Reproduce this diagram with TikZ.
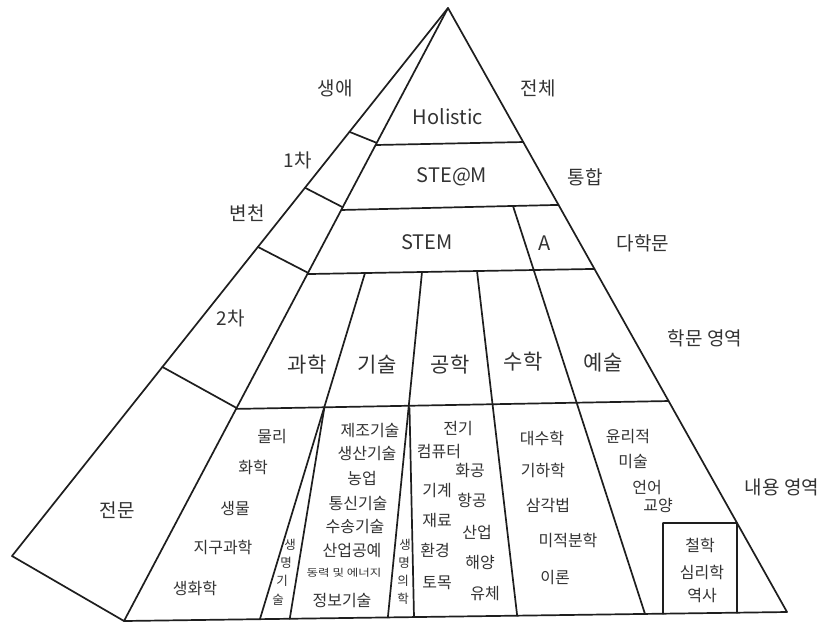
\documentclass[tikz,border=0pt]{standalone}
\usepackage{fontspec}
\usepackage{graphicx}
\setmainfont{Noto Sans CJK KR}
\usetikzlibrary{calc}
\definecolor{linec}{HTML}{1E1E1E}
\definecolor{txtc}{HTML}{333333}
\tikzset{
  edge/.style={draw=linec, line width=1.7pt, line join=round, line cap=round},
  lbl/.style={text=txtc, inner sep=0pt, font=\fontsize{19}{22}\selectfont},
  latin/.style={text=txtc, inner sep=0pt, font=\fontsize{20}{24}\selectfont},
  subj/.style={text=txtc, inner sep=0pt, font=\fontsize{21}{24}\selectfont},
  cont/.style={text=txtc, inner sep=0pt, font=\fontsize{16}{19}\selectfont},
  vert/.style={text=txtc, inner sep=0pt, font=\fontsize{12.5}{14}\selectfont},
  tinytext/.style={text=txtc, inner sep=0pt, font=\fontsize{10}{12}\selectfont}
}
\begin{document}
\begin{tikzpicture}[x=1pt,y=-1pt]
\useasboundingbox[fill=white] (0,0) rectangle (829,627);
% main points
\coordinate (A) at (448,8);
\coordinate (L) at (12,556);
\coordinate (B) at (124,621);
\coordinate (R) at (787,612);
% outline
\draw[edge] (A) -- (L) -- (B) -- (R) -- cycle;
\draw[edge] (A) -- (B);
% left face cross lines
\coordinate (c1o) at ($(A)!0.226!(L)$);  \coordinate (c1i) at ($(A)!0.220!(B)$);
\coordinate (c2o) at ($(A)!0.328!(L)$);  \coordinate (c2i) at ($(A)!0.325!(B)$);
\coordinate (c3o) at ($(A)!0.436!(L)$);  \coordinate (c3i) at ($(A)!0.432!(B)$);
\coordinate (c4o) at ($(A)!0.655!(L)$);  \coordinate (c4i) at ($(A)!0.6525!(B)$);
\draw[edge] (c1o) -- (c1i);
\draw[edge] (c2o) -- (c2i);
\draw[edge] (c3o) -- (c3i);
\draw[edge] (c4o) -- (c4i);
% front face rows
\coordinate (h1l) at ($(A)!0.2235!(B)$); \coordinate (h1r) at ($(A)!0.2219!(R)$);
\coordinate (h2l) at ($(A)!0.3295!(B)$); \coordinate (h2r) at ($(A)!0.326!(R)$);
\coordinate (h3l) at ($(A)!0.434!(B)$);  \coordinate (h3r) at ($(A)!0.432!(R)$);
\coordinate (h4l) at ($(A)!0.654!(B)$);  \coordinate (h4r) at ($(A)!0.6507!(R)$);
\draw[edge] (h1l) -- (h1r);
\draw[edge] (h2l) -- (h2r);
\draw[edge] (h3l) -- (h3r);
\draw[edge] (h4l) -- (h4r);
% dividers
\coordinate (d1t) at (365,273);   \coordinate (d1b) at ($(B)!0.205!(R)$);
\coordinate (d1m) at (324.3,408); \coordinate (e1b) at ($(B)!0.250!(R)$);
\coordinate (d2t) at (422,272);   \coordinate (d2b) at ($(B)!0.398!(R)$);
\coordinate (d2m) at (409.5,408); \coordinate (e2b) at ($(B)!0.4374!(R)$);
\coordinate (d3t) at (477,271);   \coordinate (d3b) at ($(B)!0.593!(R)$);
\coordinate (d4t) at (513,206);   \coordinate (d4b) at ($(B)!0.7858!(R)$);
\draw[edge] (d1t) -- (d1b);
\draw[edge] (d1m) -- (e1b);
\draw[edge] (d2t) -- (d2b);
\draw[edge] (d2m) -- (e2b);
\draw[edge] (d3t) -- (d3b);
\draw[edge] (d4t) -- (d4b);
% box
\coordinate (bxbl) at ($(B)!0.813!(R)$);
\coordinate (bxtl) at (663,523);
\coordinate (bxtr) at ($(A)!0.8526!(R)$);
\coordinate (bxbr) at ($(B)!0.9246!(R)$);
\draw[edge] (bxbl) -- (bxtl) -- (bxtr) -- (bxbr);
% outside / left labels
\node[lbl] (t1) at (335,88) {생애};
\node[lbl] (t2) at (538,88) {전체};
\node[lbl] (t3) at (298,160) {1차};
\node[lbl] (t4) at (585,177) {통합};
\node[lbl] (t5) at (247,213) {변천};
\node[lbl] (t6) at (643,243) {다학문};
\node[lbl] (t7) at (231,318) {2차};
\node[lbl] (t8) at (705,338) {학문 영역};
\node[lbl] (t9) at (782,487) {내용 영역};
\node[lbl] (t10) at (117,510) {전문};
% front face top
\node[latin] (p1) at (448,117) {Holistic};
\node[latin] (p2) at (452,177) {STE@M};
\node[latin] (p3) at (427,242) {STEM};
\node[latin] (p4) at (545,243) {A};
% subject row
\node[subj] (s1) at (307,365) {과학};
\node[subj] (s2) at (377,365) {기술};
\node[subj] (s3) at (450,365) {공학};
\node[subj] (s4) at (523,362) {수학};
\node[subj] (s5) at (603,363) {예술};
% science
\node[cont] (k1) at (272,437) {물리};
\node[cont] (k2) at (253,467) {화학};
\node[cont] (k3) at (235,508) {생물};
\node[cont] (k4) at (223,547) {지구과학};
\node[cont] (k5) at (195,588) {생화학};
% bio-tech strip
\node[vert] (v1) at (290,545) {생};
\node[vert] (v2) at (286,563) {명};
\node[vert] (v3) at (282,581) {기};
\node[vert] (v4) at (278,600) {술};
% technology
\node[cont] (g1) at (370,430) {제조기술};
\node[cont] (g2) at (367,453) {생산기술};
\node[cont] (g3) at (362,478) {농업};
\node[cont] (g4) at (358,503) {통신기술};
\node[cont] (g5) at (355,526) {수송기술};
\node[cont] (g6) at (352,550) {산업공예};
\node[tinytext] (g7) at (344,573) {\scalebox{1.25}[1]{동력 및 에너지}};
\node[cont] (g8) at (342,600) {정보기술};
% biomedical strip
\node[vert] (w1) at (405,545) {생};
\node[vert] (w2) at (404,563) {명};
\node[vert] (w3) at (403,581) {의};
\node[vert] (w4) at (403,599) {학};
% engineering
\node[cont] (e1) at (458,428) {전기};
\node[cont] (e2) at (439,452) {컴퓨터};
\node[cont] (e3) at (470,470) {화공};
\node[cont] (e4) at (437,490) {기계};
\node[cont] (e5) at (472,500) {항공};
\node[cont] (e6) at (437,520) {재료};
\node[cont] (e7) at (477,532) {산업};
\node[cont] (e8) at (435,550) {환경};
\node[cont] (e9) at (480,562) {해양};
\node[cont] (e10) at (437,583) {토목};
\node[cont] (e11) at (485,593) {유체};
% mathematics
\node[cont] (m1) at (542,438) {대수학};
\node[cont] (m2) at (543,470) {기하학};
\node[cont] (m3) at (548,505) {삼각법};
\node[cont] (m4) at (568,540) {미적분학};
\node[cont] (m5) at (555,578) {이론};
% arts
\node[cont] (a1) at (628,437) {윤리적};
\node[cont] (a2) at (633,462) {미술};
\node[cont] (a3) at (647,488) {언어};
\node[cont] (a4) at (658,505) {교양};
\node[cont] (a5) at (700,545) {철학};
\node[cont] (a6) at (702,572) {심리학};
\node[cont] (a7) at (702,595) {역사};
\end{tikzpicture}
\end{document}
